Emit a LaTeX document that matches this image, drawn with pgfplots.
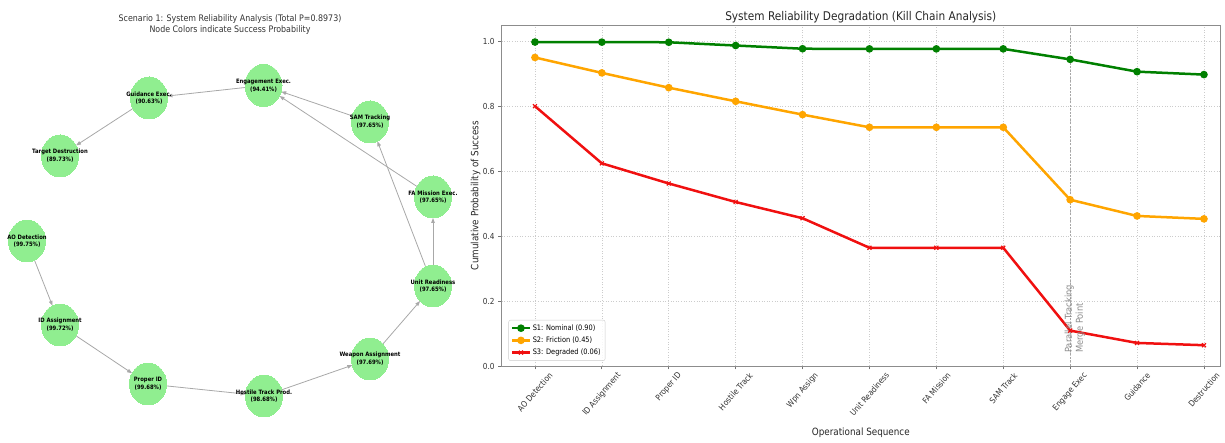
\documentclass[border=0pt]{standalone}
\usepackage{fontspec}
\setmainfont[FakeStretch=0.88]{DejaVu Sans}
\usepackage{graphicx}
\usepackage{pgfplots}
\pgfplotsset{compat=1.18}
\usepackage{pgfplotstable}
\usetikzlibrary{arrows.meta}
\definecolor{nodegreen}{HTML}{90EE90}
\definecolor{sone}{HTML}{008000}
\definecolor{stwo}{HTML}{FFA500}
\definecolor{sthree}{HTML}{F01010}
\definecolor{edgegray}{HTML}{A8A8A8}

\pgfplotstableread[col sep=comma]{
x,y,pct,name
263.5,85.5,94.41,Engagement Exec.
149,98,90.63,Guidance Exec.
60,156,89.73,Target Destruction
27,241,99.75,AO Detection
60,325,99.72,ID Assignment
148,384,99.68,Proper ID
264,396,98.68,Hostile Track Prod.
370,359,97.69,Weapon Assignment
433,286,97.65,Unit Readiness
433,197,97.65,FA Mission Exec.
370,122,97.65,SAM Tracking
}\nodetable

\pgfplotstableread{
i s1 s2 s3
0 0.9975 0.950 0.800
1 0.9972 0.9025 0.624
2 0.9968 0.857 0.562
3 0.9868 0.815 0.505
4 0.9769 0.774 0.455
5 0.9765 0.735 0.364
6 0.9765 0.735 0.364
7 0.9765 0.735 0.364
8 0.9441 0.512 0.109
9 0.9063 0.462 0.071
10 0.8973 0.453 0.064
}\seriestable

\begin{document}
\begin{tikzpicture}
\path[use as bounding box] (0,0) rectangle (1225pt,443pt);

% ---------------- Left panel: network ----------------
\begin{axis}[
  at={(0pt,0pt)}, anchor=south west,
  scale only axis, width=480pt, height=443pt,
  hide axis, clip=false,
  xmin=0, xmax=480, ymin=0, ymax=443, y dir=reverse,
]
\pgfplotsset{edge/.style={color=edgegray, line width=0.8pt, -{Triangle[length=5pt,width=3.6pt]}, forget plot}}
\addplot[edge] coordinates {(34.5,260.2) (52.5,305.8)};
\addplot[edge] coordinates {(75.9,335.7) (132.1,373.3)};
\addplot[edge] coordinates {(166.4,385.9) (245.6,394.1)};
\addplot[edge] coordinates {(281.7,389.8) (352.3,365.2)};
\addplot[edge] coordinates {(382.9,344.0) (420.1,301.0)};
\addplot[edge] coordinates {(433,265) (433,218)};
\addplot[edge] coordinates {(425.6,266.75) (377.4,141.25)};
\addplot[edge] coordinates {(417,186.5) (279.5,96)};
\addplot[edge] coordinates {(352.3,115.9) (281.2,91.6)};
\addplot[edge] coordinates {(245.1,87.5) (167.4,96)};
\addplot[edge] coordinates {(133,108.5) (76,145.5)};

\addplot[color=nodegreen, only marks, mark=*, mark size=18.5pt,
  mark options={yscale=1.135, draw=nodegreen, fill=nodegreen, line width=0pt},
  point meta=explicit symbolic,
  nodes near coords={\pgfplotspointmeta},
  every node near coord/.append style={anchor=center, yshift=3.7pt,
     font=\bfseries\fontsize{6}{7.2}\selectfont, text=black, inner sep=0pt},
] table[x=x, y=y, meta=name] {\nodetable};

\addplot[color=nodegreen, only marks, mark=*, mark size=0.01pt,
  mark options={draw=none, fill=none},
  point meta=explicit symbolic,
  nodes near coords={(\pgfplotspointmeta\%)},
  every node near coord/.append style={anchor=center, yshift=-3.7pt,
     font=\bfseries\fontsize{6}{7.2}\selectfont, text=black, inner sep=0pt},
] table[x=x, y=y, meta=pct] {\nodetable};

\node[align=center, font=\fontsize{9}{11}\selectfont, text=black!80] at (axis cs:230,24.5)
  {Scenario 1: System Reliability Analysis (Total P=0.8973)\\Node Colors indicate Success Probability};
\end{axis}

% ---------------- Right panel: line chart ----------------
\begin{axis}[
  at={(501.5pt,77pt)}, anchor=south west,
  scale only axis, width=718.5pt, height=341pt,
  xmin=-0.5, xmax=10.24, ymin=0, ymax=1.05,
  xtick={0,...,10},
  xticklabels={\rotatebox{49}{AO Detection},\rotatebox{49}{ID Assignment},\rotatebox{49}{Proper ID},\rotatebox{49}{Hostile Track},\rotatebox{49}{Wpn Assign},\rotatebox{49}{Unit Readiness},\rotatebox{49}{FA Mission},\rotatebox{49}{SAM Track},\rotatebox{49}{Engage Exec},\rotatebox{49}{Guidance},\rotatebox{49}{Destruction}},
  ytick={0,0.2,0.4,0.6,0.8,1.0},
  yticklabel style={/pgf/number format/.cd, fixed, fixed zerofill, precision=1, assume math mode=true},
  tick label style={font=\fontsize{8.3}{10}\selectfont, text=black!80},
  xticklabel style={anchor=north, inner sep=2pt},
  grid=major, grid style={dash pattern=on 1pt off 1.6pt, gray!40, line width=0.6pt},
  tick align=outside, tick pos=left, major tick length=3.5pt,
  axis line style={black!45, line width=0.9pt},
  every tick/.style={black!55, line width=0.8pt},
  title={System Reliability Degradation (Kill Chain Analysis)},
  title style={at={(axis description cs:0.5,1.0065)}, anchor=center, font=\fontsize{12}{14}\selectfont, text=black!85},
  xlabel={Operational Sequence},
  xlabel style={at={(axis description cs:0.5,-0.196)}, anchor=center, font=\fontsize{10}{12}\selectfont, text=black!85},
  ylabel={Cumulative Probability of Success},
  ylabel style={at={(axis description cs:-0.036,0.5)}, anchor=center, font=\fontsize{10}{12}\selectfont, text=black!85},
  legend style={at={(axis description cs:0.0097,0.015)}, anchor=south west,
     draw=black!20, rounded corners=2pt, fill=white, fill opacity=0.85, text opacity=1,
     font=\fontsize{7.5}{9}\selectfont, inner sep=2.5pt, row sep=1pt},
  legend cell align=left,
  clip=false,
]
\addplot[forget plot, black!35, line width=0.8pt, dash pattern=on 2pt off 1.5pt] coordinates {(8,0) (8,1.05)};
\addplot[color=sone, line width=2.5pt, mark=*, mark size=2.5pt, mark options={solid}] table[x=i, y=s1] {\seriestable};
\addlegendentry{S1: Nominal (0.90)}
\addplot[color=stwo, line width=2.5pt, mark=*, mark size=2.5pt] table[x=i, y=s2] {\seriestable};
\addlegendentry{S2: Friction (0.45)}
\addplot[color=sthree, line width=2.5pt, mark=x, mark size=2.8pt, mark options={line width=1.2pt}] table[x=i, y=s3] {\seriestable};
\addlegendentry{S3: Degraded (0.06)}
\node[rotate=90, anchor=west, align=left, font=\fontsize{9.5}{11}\selectfont, text=black!45] at (axis cs:8.07,0.03)
  {Parallel Tracking\\Merge Point};
\end{axis}
\end{tikzpicture}
\end{document}
